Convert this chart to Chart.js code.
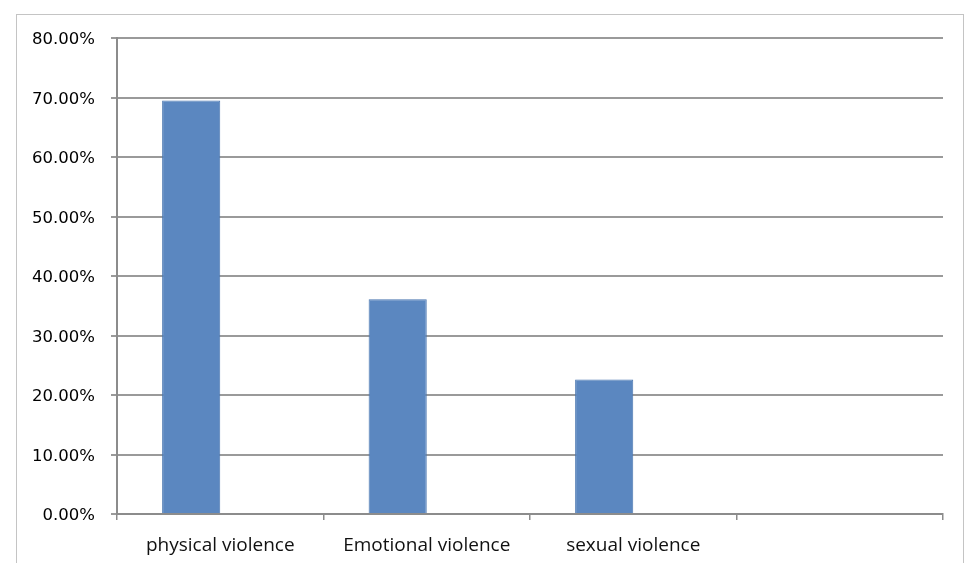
<!DOCTYPE html>
<html>
<head>
<meta charset="utf-8">
<script src="https://cdn.jsdelivr.net/npm/chart.js@4"></script>
<style>
  html, body { margin: 0; padding: 0; background: #fff; }
  #wrap { position: relative; width: 968px; height: 563px; }
  #frame { position: absolute; left: 16px; top: 14px; width: 948px; height: 560px; border: 1.5px solid #c4c4c4; box-sizing: border-box; }
  canvas { position: absolute; left: 0; top: 0; }
</style>
</head>
<body>
<div id="wrap">
  <div id="frame"></div>
  <canvas id="c" width="968" height="563"></canvas>
</div>
<script>
const categories = ["physical violence", "Emotional violence", "sexual violence", ""];
const values = [69.5, 36.1, 22.6, null];
const emptySeries = [null, null, null, null];
const yTicks = [0, 10, 20, 30, 40, 50, 60, 70, 80];

const ctx = document.getElementById('c');
new Chart(ctx, {
  type: 'bar',
  data: {
    labels: categories,
    datasets: [{
      data: values,
      backgroundColor: '#5b87c0',
      borderColor: '#4a76b0',
      borderWidth: 1,
      categoryPercentage: 0.563,
      barPercentage: 1
    }, {
      data: emptySeries,
      backgroundColor: '#c0504d',
      categoryPercentage: 0.563,
      barPercentage: 1
    }]
  },
  options: {
    responsive: false,
    animation: false,
    layout: { padding: { top: 38, right: 25, left: 0, bottom: 0 } },
    plugins: { legend: { display: false }, tooltip: { enabled: false } },
    scales: {
      x: {
        offset: true,
        grid: {
          offset: true,
          drawOnChartArea: false,
          drawTicks: true,
          tickLength: 6,
          color: '#8c8c8c',
          lineWidth: 1.5
        },
        border: { color: '#8c8c8c', width: 2 },
        ticks: {
          color: '#111',
          font: { family: 'Open Sans', size: 19 },
          padding: 14,
          maxRotation: 0
        },
        afterFit: (s) => { s.height = 563 - 514; }
      },
      y: {
        min: 0,
        max: 80,
        afterBuildTicks: (s) => { s.ticks = yTicks.map(v => ({ value: v })); },
        grid: {
          color: '#9a9a9a',
          lineWidth: 2,
          tickLength: 6
        },
        border: { color: '#8c8c8c', width: 2 },
        ticks: {
          color: '#000',
          font: { family: 'DejaVu Sans', size: 16.5 },
          padding: 16,
          labelOffset: 2,
          callback: (v) => Number(v).toFixed(2) + '%'
        },
        afterFit: (s) => { s.width = 117; }
      }
    }
  }
});
</script>
</body>
</html>
